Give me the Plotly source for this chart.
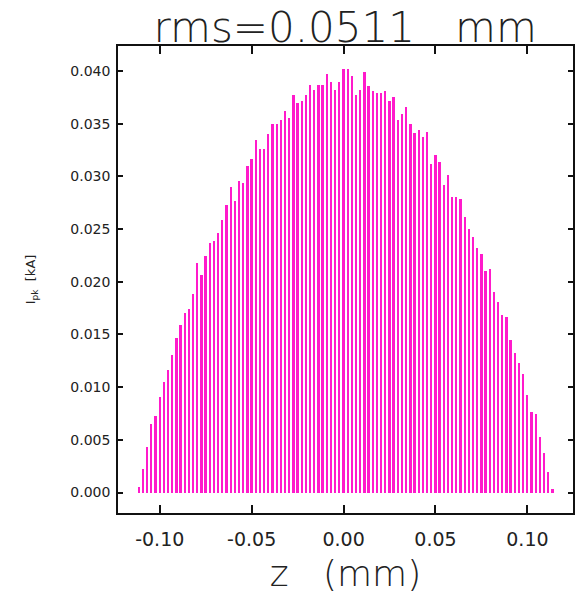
import numpy as np
import plotly.graph_objects as go

# Histogram bin grid (z in mm)
z_first = -0.1114
z_last = 0.1136
n_bins = 100

# Peak current per bin (kA), left to right
current_kA = [
    0.00054, 0.00219, 0.00434, 0.00649, 0.00722, 0.00903, 0.01051, 0.01159, 0.01305, 0.01466,
    0.01593, 0.01701, 0.01739, 0.01881, 0.02176, 0.02065, 0.02245, 0.02372, 0.02391, 0.02461,
    0.02587, 0.02733, 0.02898, 0.02771, 0.02952, 0.02936, 0.03094, 0.03167, 0.03348, 0.03259,
    0.03259, 0.03405, 0.03500, 0.03500, 0.03538, 0.03623, 0.03553, 0.03772, 0.03699, 0.03718,
    0.03772, 0.03864, 0.03823, 0.03864, 0.03864, 0.03968, 0.03895, 0.03823, 0.03895, 0.04022,
    0.04022, 0.03952, 0.03772, 0.03823, 0.03987, 0.03861, 0.03807, 0.03788, 0.03788, 0.03807,
    0.03715, 0.03753, 0.03534, 0.03588, 0.03658, 0.03500, 0.03408, 0.03443, 0.03370, 0.03424,
    0.03116, 0.03205, 0.03132, 0.02917, 0.03009, 0.02809, 0.02809, 0.02790, 0.02610, 0.02502,
    0.02429, 0.02321, 0.02268, 0.02103, 0.02122, 0.01903, 0.01812, 0.01685, 0.01666, 0.01447,
    0.01321, 0.01232, 0.01121, 0.00922, 0.00760, 0.00741, 0.00526, 0.00380, 0.00196, 0.00035,
]

z_mm = np.linspace(z_first, z_last, n_bins)

x_tickvals = [-0.10, -0.05, 0.00, 0.05, 0.10]
x_ticktext = ["-0.10", "-0.05", "0.00", "0.05", "0.10"]
y_tickvals = [0.000, 0.005, 0.010, 0.015, 0.020, 0.025, 0.030, 0.035, 0.040]
y_ticktext = ["0.000", "0.005", "0.010", "0.015", "0.020", "0.025", "0.030", "0.035", "0.040"]

fig = go.Figure()
fig.add_trace(go.Bar(
    x=z_mm, y=current_kA, width=0.00125,
    marker=dict(color="#FF1ACB", line=dict(width=0)),
    showlegend=False,
))

fig.update_layout(
    width=586, height=607,
    margin=dict(l=118, r=13, t=46, b=94),
    paper_bgcolor="white", plot_bgcolor="white",
    font=dict(family="DejaVu Sans", color="#222"),
    title=dict(text="rms=0.0511   mm", x=0.5 * (117.7 + 572.7) / 586, xanchor="center",
               y=1 - 27 / 607, yanchor="middle",
               font=dict(family="DejaVu Sans", size=42, color="#222", weight=200)),
    bargap=0,
)

fig.update_xaxes(
    range=[-0.1227, 0.1248], tickvals=x_tickvals, ticktext=x_ticktext,
    ticks="inside", ticklen=8, tickwidth=1.5, tickcolor="#111",
    showline=True, linecolor="#111", linewidth=1.5, mirror="ticks",
    showgrid=False, zeroline=False, automargin=False,
    tickfont=dict(family="DejaVu Sans", size=19, color="#222"),
    ticklabelstandoff=8,
    title=dict(text="z   (mm)", font=dict(family="DejaVu Sans", size=36, color="#222", weight=200),
               standoff=12),
)
fig.update_yaxes(
    range=[-0.00194, 0.04237], tickvals=y_tickvals, ticktext=y_ticktext,
    ticks="inside", ticklen=5, tickwidth=1.5, tickcolor="#111",
    showline=True, linecolor="#111", linewidth=1.5, mirror="ticks",
    showgrid=False, zeroline=False, automargin=False,
    tickfont=dict(family="DejaVu Sans", size=14, color="#222"),
    ticklabelstandoff=3,
    title=dict(text="I<sub>pk</sub>  [kA]", font=dict(family="DejaVu Sans", size=13, color="#222"),
               standoff=32),
)

fig.write_html("out.html")
